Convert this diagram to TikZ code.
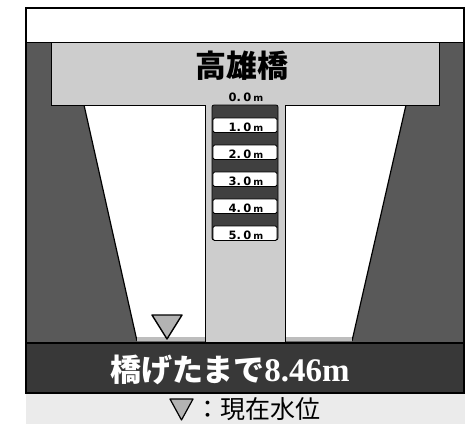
\documentclass[tikz,border=0pt]{standalone}
\usepackage{fontspec}
\newfontfamily\jp{Noto Sans CJK JP}
\newfontfamily\dv{DejaVu Sans}
\newfontfamily\serifb{Liberation Serif}
\definecolor{side}{HTML}{595959}
\definecolor{band}{HTML}{383838}
\definecolor{bridge}{HTML}{CDCDCD}
\definecolor{legend}{HTML}{EBEBEB}
\definecolor{marker}{HTML}{B3B3B3}
\definecolor{bar}{HTML}{404040}
\definecolor{water}{HTML}{BDBDBD}
\newcommand{\scaletxt}[1]{#1.\hspace{2.5pt}0\hspace{2pt}{\fontsize{9.5}{9.5}\selectfont m}}
\tikzset{
  scalebox/.style={fill=white,draw=black,line width=0.8pt,rounded corners=1.5pt},
  scalelabel/.style={font=\dv\bfseries\fontsize{11.5}{11.5}\selectfont,inner sep=0pt},
  marktri/.style={fill=marker,draw=black,line width=1.4pt,line join=round}
}
\begin{document}
\begin{tikzpicture}[x=1pt,y=-1pt]
\useasboundingbox (0,0) rectangle (474,424);
% legend band
\fill[legend] (26,394) rectangle (465,424);
% dark sides and top
\fill[side] (26,8) rectangle (464,343);
\fill[white] (26,8) rectangle (464,42);
% river channel
\fill[white] (84,105) -- (406,105) -- (352,341) -- (137,341) -- cycle;
\draw[black,line width=1.2pt] (84,105) -- (137,341);
\draw[black,line width=1.2pt] (406,105) -- (352,341);
% water line
\fill[water] (137,337) rectangle (352,341);
% bridge and pier
\draw[fill=bridge,draw=black,line width=1pt]
  (51,42) -- (439,42) -- (439,105) -- (285,105) -- (285,342) -- (205,342) -- (205,105) -- (51,105) -- cycle;
% bottom band
\draw[fill=band,draw=black,line width=1.2pt] (26,343) rectangle (464,393);
% outer frame
\draw[black,line width=1.5pt] (26,8) rectangle (464,393);
\draw[black,line width=1pt] (26,42) -- (464,42);
% scale
\draw[fill=bar,draw=black,line width=0.8pt,rounded corners=2pt] (212,105) rectangle (278,240);
\node[scalelabel,anchor=base] (l0) at (246,101.5) {\scaletxt{0}};
\foreach \i/\y in {1/118,2/145,3/172,4/199,5/226}{
  \draw[scalebox] (213,\y) rectangle (277,\y+14.5);
  \node[scalelabel,anchor=base] (l\i) at (246,\y+13.3) {\scaletxt{\i}};
}
% water level marker
\draw[marktri] (152,315) -- (182,315) -- (167,339) -- cycle;
% title
\node[font=\jp\bfseries\fontsize{31}{31}\selectfont,inner sep=0pt] (title) at (242,66) {高雄橋};
% bottom text
\node[text=white,inner sep=0pt,anchor=base] (dist) at (230,381)
  {\jp\bfseries\fontsize{31}{31}\selectfont 橋げたまで\serifb\bfseries\fontsize{33}{33}\selectfont 8.46m};
% legend
\draw[marktri,line width=1.2pt] (170,399) -- (193,399) -- (181.5,420) -- cycle;
\node[font=\jp\fontsize{25}{25}\selectfont,inner sep=0pt,anchor=west] (leg) at (195,409) {：現在水位};
\end{tikzpicture}
\end{document}
